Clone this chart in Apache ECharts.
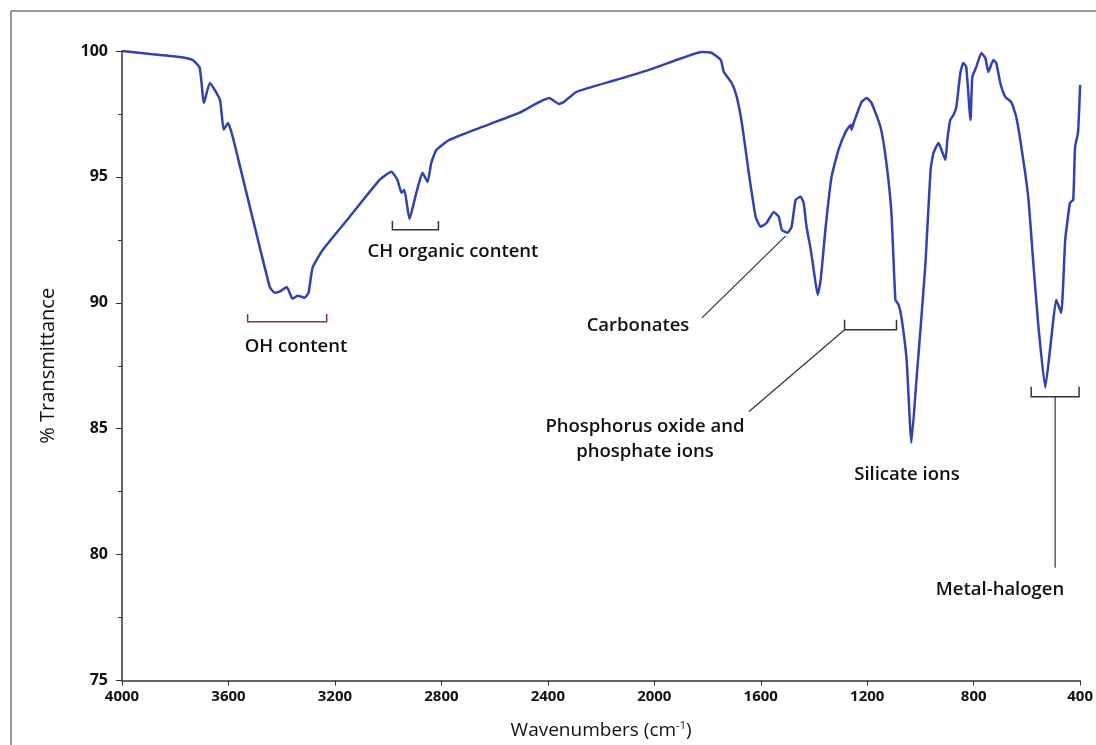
<!DOCTYPE html>
<html lang="en">
<head>
    <meta charset="UTF-8">
    <title>FTIR spectrum</title>
    <script src="https://cdn.jsdelivr.net/npm/echarts@6/dist/echarts.min.js"></script>
    <style>
        html, body { margin: 0; padding: 0; background: #fff; }
        #chart { width: 1096px; height: 745px; }
    </style>
</head>
<body>
<div id="chart"></div>
<script type="text/javascript">
    // spectrum
    var wavenumbers = [4000, 3895, 3782, 3734, 3708, 3692, 3670, 3632, 3618, 3602, 3584, 3445, 3426, 3408, 3381,
        3359, 3340, 3314, 3299, 3284, 3246, 3145, 3032, 2988, 2965, 2950, 2939, 2920, 2894, 2871, 2852, 2838,
        2819, 2770, 2658, 2508, 2395, 2358, 2339, 2294, 2144, 2020, 1896, 1821, 1784, 1750, 1739, 1709, 1690,
        1671, 1645, 1619, 1600, 1578, 1551, 1532, 1521, 1499, 1484, 1469, 1450, 1439, 1428, 1412, 1394, 1386,
        1375, 1356, 1334, 1308, 1281, 1262, 1259, 1251, 1221, 1202, 1184, 1150, 1128, 1109, 1094, 1082, 1071,
        1052, 1034, 1015, 1000, 981, 962, 951, 932, 921, 906, 899, 888, 876, 865, 850, 839, 828, 812, 805, 790,
        771, 756, 745, 726, 715, 700, 681, 659, 640, 621, 595, 576, 558, 531, 509, 490, 471, 456, 438, 426, 419,
        408, 400];
    var transmittance = [100.0, 99.88, 99.76, 99.64, 99.33, 97.94, 98.73, 98.06, 96.87, 97.14, 96.59, 90.63, 90.40,
        90.44, 90.63, 90.16, 90.28, 90.20, 90.40, 91.39, 92.10, 93.41, 94.88, 95.20, 94.88, 94.37, 94.48, 93.33,
        94.37, 95.16, 94.80, 95.56, 96.07, 96.47, 96.94, 97.54, 98.13, 97.90, 97.98, 98.37, 98.85, 99.25, 99.72,
        99.96, 99.92, 99.64, 99.17, 98.73, 98.17, 97.14, 95.16, 93.41, 93.02, 93.17, 93.61, 93.41, 92.90, 92.78,
        93.02, 94.09, 94.21, 93.97, 93.02, 92.10, 90.79, 90.32, 90.91, 93.02, 95.00, 96.07, 96.79, 97.06, 96.87,
        97.14, 97.98, 98.13, 97.94, 96.98, 95.56, 93.57, 90.12, 89.92, 89.40, 87.74, 84.44, 86.94, 88.93, 91.59,
        95.28, 95.95, 96.35, 96.07, 95.67, 96.47, 97.26, 97.46, 97.78, 99.13, 99.52, 99.37, 97.26, 98.97, 99.37,
        99.92, 99.72, 99.17, 99.64, 99.52, 98.73, 98.17, 97.98, 97.38, 96.19, 94.21, 91.59, 89.21, 86.63, 88.53,
        90.12, 89.60, 92.50, 93.97, 94.09, 96.19, 96.75, 98.65];

    var xTicks = [4000, 3600, 3200, 2800, 2400, 2000, 1600, 1200, 800, 400];
    var yTicks = [75, 80, 85, 90, 95, 100];

    // brackets: [from wn, to wn, bottom %T, top %T]
    var ohBracket = [3528, 3231, 89.25, 89.56];
    var chBracket = [2984, 2811, 92.90, 93.25];
    var phosBracket = [1285, 1090, 88.93, 89.33];
    var metalBracket = [584, 404, 86.27, 86.67];
    // leader lines: [wn, %T, wn, %T]
    var carbLeader = [1506, 92.66, 1821, 89.40];
    var phosLeader = [1285, 88.93, 1645, 85.67];
    var metalLeader = [494, 86.27, 494, 79.48];

    var myChart = echarts.init(document.getElementById('chart'));
    var font = '"Open Sans", "Liberation Sans", sans-serif';

    var pairs = [];
    for (var i = 0; i < wavenumbers.length; i++) {
        pairs.push([wavenumbers[i], transmittance[i]]);
    }

    var option = {
        backgroundColor: '#fff',
        animation: false,
        grid: { left: 122, right: 14, top: 51, bottom: 64 },
        xAxis: {
            type: 'value',
            inverse: true,
            min: xTicks[xTicks.length - 1],
            max: xTicks[0],
            interval: 400,
            name: 'Wavenumbers (cm{sup|-1})',
            nameLocation: 'middle',
            nameGap: 40,
            nameTextStyle: {
                fontFamily: font, fontSize: 19, color: '#111',
                rich: { sup: { fontFamily: font, fontSize: 11, color: '#111', padding: [0, 0, 9, 0] } }
            },
            axisLine: { lineStyle: { color: '#333', width: 1.5 } },
            axisTick: { length: 5, lineStyle: { color: '#333' } },
            axisLabel: {
                fontFamily: font, fontSize: 15, fontWeight: 'bold', color: '#111', margin: 9,
                formatter: function (v) { return String(v); }
            },
            splitLine: { show: false }
        },
        yAxis: {
            type: 'value',
            min: yTicks[0],
            max: yTicks[yTicks.length - 1],
            interval: 5,
            name: '% Transmittance',
            nameLocation: 'middle',
            nameGap: 64,
            nameTextStyle: { fontFamily: font, fontSize: 20, color: '#111' },
            axisLine: { show: true, lineStyle: { color: '#333', width: 1.5 } },
            axisTick: { show: true, length: 6, lineStyle: { color: '#333' } },
            minorTick: { show: true, splitNumber: 2, length: 4, lineStyle: { color: '#333' } },
            axisLabel: { fontFamily: font, fontSize: 16, fontWeight: 'bold', color: '#111', margin: 14 },
            splitLine: { show: false }
        },
        series: [{
            type: 'line',
            data: pairs,
            showSymbol: false,
            smooth: 0.15,
            lineStyle: { color: '#3142b0', width: 2.5 },
            z: 3
        }]
    };
    myChart.setOption(option);

    function px(wn, t) {
        return myChart.convertToPixel({ gridIndex: 0 }, [wn, t]);
    }

    function bracket(b, color) {
        var a = px(b[0], b[2]), c = px(b[1], b[2]);
        var aTop = px(b[0], b[3]), cTop = px(b[1], b[3]);
        return {
            type: 'polyline',
            shape: { points: [aTop, a, c, cTop] },
            style: { stroke: color, lineWidth: 1.5, fill: null }
        };
    }

    function leader(l) {
        var a = px(l[0], l[1]), b = px(l[2], l[3]);
        return {
            type: 'line',
            shape: { x1: a[0], y1: a[1], x2: b[0], y2: b[1] },
            style: { stroke: '#333', lineWidth: 1.2 }
        };
    }

    function label(text, x, y) {
        return {
            type: 'text', x: x, y: y,
            style: {
                text: text, font: '600 18.5px ' + font, fill: '#111',
                align: 'center', verticalAlign: 'middle', lineHeight: 25
            }
        };
    }

    myChart.setOption({
        graphic: [
            { type: 'rect', shape: { x: 11, y: 11, width: 1100, height: 760 }, style: { stroke: '#333', lineWidth: 1, fill: null } },
            bracket(ohBracket, '#7a3b3b'),
            bracket(chBracket, '#333'),
            bracket(phosBracket, '#333'),
            bracket(metalBracket, '#333'),
            leader(carbLeader),
            leader(phosLeader),
            leader(metalLeader),
            label('OH content', 296, 347),
            label('CH organic content', 453, 252),
            label('Carbonates', 638, 326),
            label('Phosphorus oxide and\nphosphate ions', 645, 439),
            label('Silicate ions', 907, 475),
            label('Metal-halogen', 1000, 590)
        ]
    });
</script>
</body>
</html>
